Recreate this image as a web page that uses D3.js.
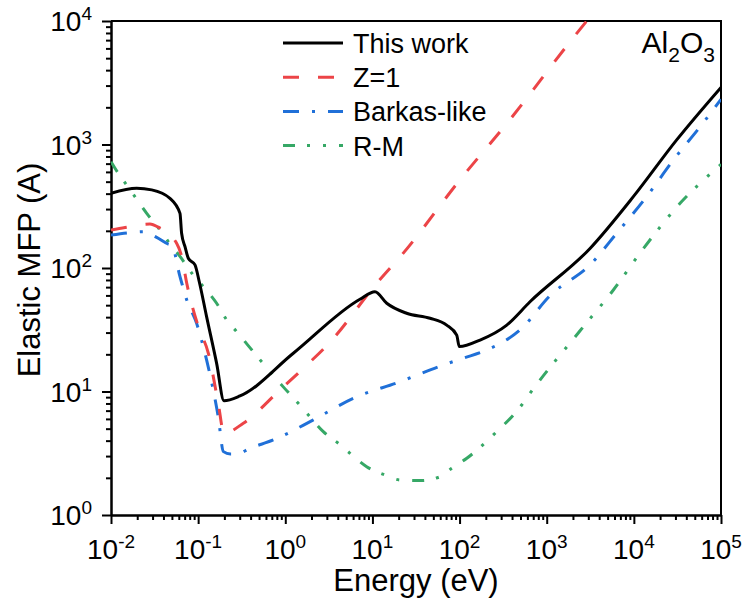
<!DOCTYPE html>
<html>
<head>
<meta charset="utf-8">
<script src="https://cdn.jsdelivr.net/npm/d3@7"></script>
<style>
  body { margin: 0; background: #fff; }
  text { font-family: "Liberation Sans", Arial, sans-serif; fill: #000; }
</style>
</head>
<body>
<div id="chart"></div>
<script>
// Data (energy in eV, mean free path in A)
var thisWorkE   = [0.01, 0.0197, 0.0293, 0.0475, 0.0619, 0.0646, 0.0708, 0.0771, 0.092, 0.103, 0.125, 0.163, 0.198, 0.302, 1.236, 7.19, 10.7, 14.6, 24.7, 45.8, 71.1, 92.7, 99.3, 172, 348, 643, 3140, 9860, 31000, 100000];
var thisWorkMFP = [403, 442, 429, 366, 277, 191, 148, 120, 106, 77.4, 40.4, 16.9, 8.41, 9.2, 20.4, 55.8, 64.3, 51.8, 43.0, 39.2, 34.5, 28.6, 23.1, 26.1, 34.5, 53.3, 144, 378, 1090, 2900];

var z1E   = [0.01, 0.0145, 0.028, 0.0349, 0.0568, 0.0647, 0.074, 0.1005, 0.131, 0.170, 0.198, 0.33, 0.869, 1.61, 3.26, 11.2, 22.6, 100, 362, 2210, 3980];
var z1MFP = [203, 213, 227, 214, 158, 124, 75.2, 33.5, 20.4, 8.04, 4.59, 5.53, 10.3, 15.4, 25.1, 75.2, 132, 513, 1530, 7940, 13200];

var barkasE   = [0.01, 0.0158, 0.0235, 0.0334, 0.0455, 0.0498, 0.0619, 0.074, 0.0961, 0.125, 0.149, 0.170, 0.195, 0.234, 0.277, 0.394, 0.729, 2.10, 6.04, 20.7, 65.0, 110, 205, 494, 1110, 3140, 6350, 14000, 28400, 57500, 100000];
var barkasMFP = [185, 193, 197, 177, 156, 153, 85.1, 55.1, 35.6, 18.0, 10.3, 6.25, 3.26, 3.12, 3.12, 3.47, 4.05, 5.89, 8.81, 12.0, 16.4, 18.6, 21.7, 31.5, 60.4, 106, 191, 378, 748, 1390, 2320];

var rmE   = [0.01, 0.0121, 0.0151, 0.0188, 0.0257, 0.0365, 0.0455, 0.0619, 0.0879, 0.115, 0.163, 0.213, 0.277, 0.536, 0.948, 1.41, 1.84, 2.73, 4.06, 5.53, 8.59, 13.9, 20.7, 35.2, 59.7, 81.3, 121, 244, 516, 643, 2400, 5820, 12900, 33900, 93100, 100000];
var rmMFP = [726, 585, 470, 378, 277, 203, 163, 124, 87.7, 70.6, 51.8, 37.9, 30.5, 17.4, 10.9, 8.02, 6.46, 4.73, 3.81, 3.16, 2.46, 2.11, 1.92, 1.90, 2.04, 2.39, 2.88, 4.45, 7.78, 9.66, 30.9, 66.4, 144, 334, 661, 692];

var seriesNames = ["This work", "Z=1", "Barkas-like", "R-M"];
var xTickExps = [-2, -1, 0, 1, 2, 3, 4, 5];
var yTickExps = [0, 1, 2, 3, 4];

var series = [
  { name: seriesNames[0], e: thisWorkE, v: thisWorkMFP, color: "#000000", dash: null },
  { name: seriesNames[1], e: z1E, v: z1MFP, color: "#ec4447", dash: "16,19" },
  { name: seriesNames[2], e: barkasE, v: barkasMFP, color: "#2070d8", dash: "16,13,3,13" },
  { name: seriesNames[3], e: rmE, v: rmMFP, color: "#36a866", dash: "12,12,3,13,3,13" }
];

var svgWidth = 743, svgHeight = 605;
var margin = { top: 21, right: 22, bottom: 90, left: 111 };
var chartWidth = svgWidth - margin.left - margin.right;
var chartHeight = svgHeight - margin.top - margin.bottom;

var svg = d3.select("#chart").append("svg")
  .attr("width", svgWidth)
  .attr("height", svgHeight);

var chartGroup = svg.append("g")
  .attr("transform", `translate(${margin.left}, ${margin.top})`);

var xScale = d3.scaleLog().domain([1e-2, 1e5]).range([0, chartWidth]);
var yScale = d3.scaleLog().domain([1, 1e4]).range([chartHeight, 0]);

chartGroup.append("clipPath").attr("id", "plotclip")
  .append("rect").attr("width", chartWidth).attr("height", chartHeight);

// minor ticks
var xMinor = [], yMinor = [];
xTickExps.slice(0, -1).forEach(p => { for (var k = 2; k < 10; k++) xMinor.push(k * Math.pow(10, p)); });
yTickExps.slice(0, -1).forEach(p => { for (var k = 2; k < 10; k++) yMinor.push(k * Math.pow(10, p)); });

function styleAxis(g) {
  g.select(".domain").attr("stroke", "#000").attr("stroke-width", 2);
  g.selectAll(".tick line").attr("stroke", "#000").attr("stroke-width", 2);
  g.selectAll(".tick text").remove();
}

chartGroup.append("g")
  .attr("transform", `translate(0, ${chartHeight})`)
  .call(d3.axisBottom(xScale).tickValues(xMinor).tickSize(5).tickSizeOuter(0))
  .call(styleAxis);
chartGroup.append("g")
  .attr("transform", `translate(0, ${chartHeight})`)
  .call(d3.axisBottom(xScale).tickValues(xTickExps.map(p => Math.pow(10, p))).tickSize(9).tickSizeOuter(0))
  .call(styleAxis);
chartGroup.append("g")
  .call(d3.axisLeft(yScale).tickValues(yMinor).tickSize(5).tickSizeOuter(0))
  .call(styleAxis);
chartGroup.append("g")
  .call(d3.axisLeft(yScale).tickValues(yTickExps.map(p => Math.pow(10, p))).tickSize(9).tickSizeOuter(0))
  .call(styleAxis);

// top and right frame
chartGroup.append("path")
  .attr("d", `M0,0H${chartWidth}V${chartHeight}`)
  .attr("fill", "none").attr("stroke", "#000").attr("stroke-width", 2);

// tick labels with superscripts
xTickExps.forEach(p => {
  var t = chartGroup.append("text")
    .attr("x", xScale(Math.pow(10, p)))
    .attr("y", chartHeight + 44)
    .attr("text-anchor", "middle")
    .style("font-size", "28px");
  t.append("tspan").text("10");
  t.append("tspan").attr("dy", -11).style("font-size", "19px").text(p);
});
yTickExps.forEach(p => {
  var t = chartGroup.append("text")
    .attr("x", -19)
    .attr("y", yScale(Math.pow(10, p)) + 10)
    .attr("text-anchor", "end")
    .style("font-size", "28px");
  t.append("tspan").text("10");
  t.append("tspan").attr("dy", -11).style("font-size", "19px").text(p);
});

// axis titles
svg.append("text")
  .attr("x", margin.left + chartWidth / 2)
  .attr("y", 591)
  .attr("text-anchor", "middle")
  .style("font-size", "31px")
  .text("Energy (eV)");
svg.append("text")
  .attr("transform", "translate(40, 270) rotate(-90)")
  .attr("text-anchor", "middle")
  .style("font-size", "31px")
  .text("Elastic MFP (A)");

// curves
var line = d3.line()
  .x(d => xScale(d[0]))
  .y(d => yScale(d[1]))
  .curve(d3.curveMonotoneX);

var plot = chartGroup.append("g").attr("clip-path", "url(#plotclip)");
series.slice().reverse().forEach(s => {
  plot.append("path")
    .datum(s.e.map((e, i) => [e, s.v[i]]))
    .attr("d", line)
    .attr("fill", "none")
    .attr("stroke", s.color)
    .attr("stroke-width", 3)
    .attr("stroke-dasharray", s.dash);
});

// legend
var legend = svg.append("g").attr("transform", "translate(283, 43)");
series.forEach((s, i) => {
  var row = legend.append("g").attr("transform", `translate(0, ${i * 34.2})`);
  row.append("line")
    .attr("x1", 0).attr("x2", 60)
    .attr("stroke", s.color)
    .attr("stroke-width", 3)
    .attr("stroke-dasharray", s.dash);
  row.append("text")
    .attr("x", 70).attr("y", 10)
    .style("font-size", "27px")
    .text(s.name);
});

// material label
var mat = svg.append("text")
  .attr("x", 715).attr("y", 53)
  .attr("text-anchor", "end")
  .style("font-size", "30px");
mat.append("tspan").text("Al");
mat.append("tspan").attr("dy", 9).style("font-size", "21px").text("2");
mat.append("tspan").attr("dy", -9).text("O");
mat.append("tspan").attr("dy", 9).style("font-size", "21px").text("3");
</script>
</body>
</html>
